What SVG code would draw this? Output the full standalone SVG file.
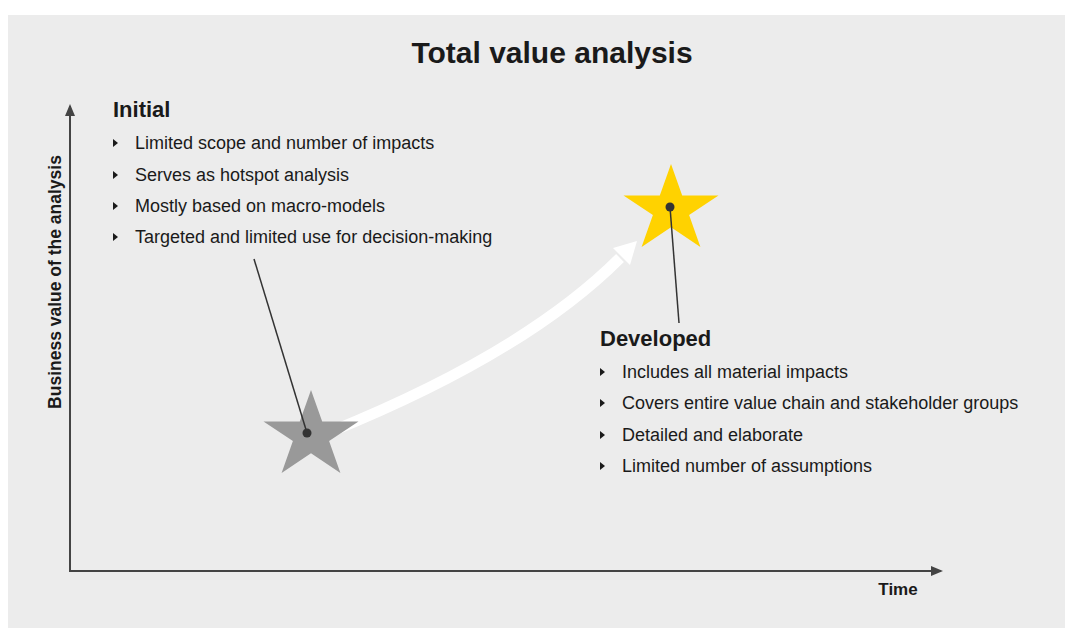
<svg xmlns="http://www.w3.org/2000/svg" width="1065" height="628" viewBox="0 0 1065 628">
<defs>
<style>
.t{font-family:"Liberation Sans",Arial,sans-serif;fill:#1a1a1a}
.b{font-weight:bold}
.item{font-size:18px}
.h{font-size:22px;font-weight:bold}
.axis{stroke:#444;stroke-width:2;fill:none}
.lead{stroke:#333;stroke-width:1.5;fill:none}
.dot{fill:#333}
.bul{fill:#1a1a1a}
</style>
<marker id="ah" markerWidth="12" markerHeight="10" refX="10" refY="5" orient="auto" markerUnits="userSpaceOnUse">
<path d="M0,0 L12,5 L0,10 Z" fill="#444"/>
</marker>
<path id="tri" d="M0,-4 L5,0 L0,4 Z"/>
<polygon id="star" points="0,-46 11.2,-14.6 47.5,-14.6 18.1,5.1 29.4,36.9 0,17.2 -29.4,36.9 -18.1,5.1 -47.5,-14.6 -11.2,-14.6"/>
</defs>
<rect x="8" y="15" width="1057" height="613" fill="#ececec"/>
<text class="t b" x="552" y="63" font-size="30" text-anchor="middle">Total value analysis</text>
<g id="axes">
<path class="axis" d="M70,571 L70,106" marker-end="url(#ah)"/>
<path class="axis" d="M69,571 L941,571" marker-end="url(#ah)"/>
<text class="t b" font-size="17.5" text-anchor="middle" transform="translate(61,282) rotate(-90)">Business value of the analysis</text>
<text class="t b" x="898" y="595" font-size="17" text-anchor="middle">Time</text>
</g>
<g id="connectors">
<path d="M330,432 Q525,353 620,258" stroke="#fff" stroke-width="11" fill="none"/>
<polygon points="637,241 630,265 613,248" fill="#fff"/>
</g>
<g id="initial-star">
<use href="#star" x="311" y="436" fill="#999"/>
</g>
<g id="developed-star">
<use href="#star" x="671" y="210" fill="#ffd200"/>
</g>
<g id="leaders">
<line class="lead" x1="254" y1="259" x2="307" y2="433"/>
<circle class="dot" cx="307" cy="433" r="4.5"/>
<line class="lead" x1="670" y1="207" x2="679" y2="323"/>
<circle class="dot" cx="670" cy="207" r="4.5"/>
</g>
<g id="initial">
<text class="t h" x="113" y="117">Initial</text>
<use href="#tri" x="113" y="143" class="bul"/>
<text class="t item" x="135" y="149">Limited scope and number of impacts</text>
<use href="#tri" x="113" y="175" class="bul"/>
<text class="t item" x="135" y="181">Serves as hotspot analysis</text>
<use href="#tri" x="113" y="206" class="bul"/>
<text class="t item" x="135" y="212">Mostly based on macro-models</text>
<use href="#tri" x="113" y="237" class="bul"/>
<text class="t item" x="135" y="243">Targeted and limited use for decision-making</text>
</g>
<g id="developed">
<text class="t h" x="600" y="346">Developed</text>
<use href="#tri" x="600" y="372" class="bul"/>
<text class="t item" x="622" y="378">Includes all material impacts</text>
<use href="#tri" x="600" y="403" class="bul"/>
<text class="t item" x="622" y="409">Covers entire value chain and stakeholder groups</text>
<use href="#tri" x="600" y="435" class="bul"/>
<text class="t item" x="622" y="441">Detailed and elaborate</text>
<use href="#tri" x="600" y="466" class="bul"/>
<text class="t item" x="622" y="472">Limited number of assumptions</text>
</g>
</svg>
